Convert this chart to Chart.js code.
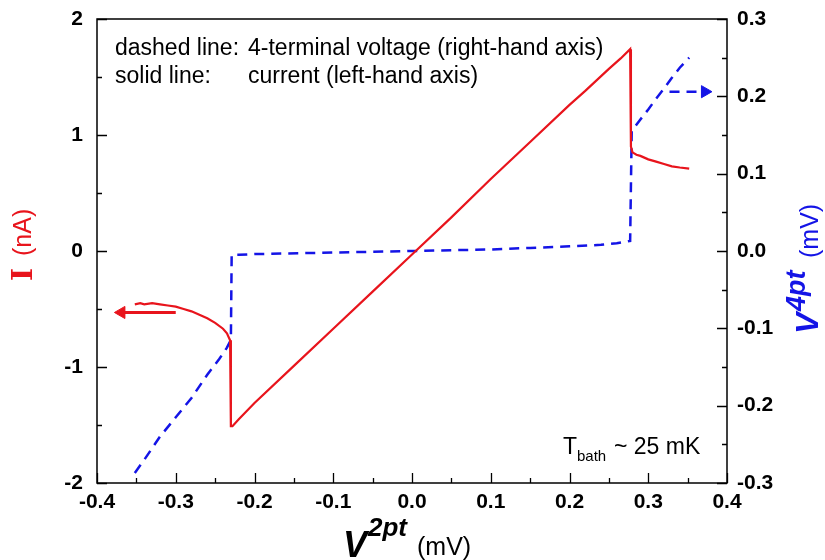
<!DOCTYPE html>
<html>
<head>
<meta charset="utf-8">
<script src="https://cdn.jsdelivr.net/npm/chart.js@4.4.1/dist/chart.umd.min.js"></script>
<style>
  body { margin: 0; background: #fff; }
  canvas { display: block; }
</style>
</head>
<body>
<canvas id="chart" width="825" height="560"></canvas>
<script>
// current (left axis), nA vs V2pt (mV)
const currentX = [-0.352, -0.345, -0.34, -0.33, -0.32, -0.31, -0.30, -0.29, -0.28, -0.27, -0.26, -0.25, -0.24, -0.235, -0.231,
    -0.230, -0.228, -0.22, -0.20, -0.15, -0.10, -0.05, 0.00, 0.05, 0.10, 0.15, 0.20, 0.22, 0.25, 0.265, 0.277,
    0.278, 0.280, 0.285, 0.29, 0.30, 0.31, 0.32, 0.33, 0.34, 0.352];
const currentI = [-0.46, -0.45, -0.46, -0.45, -0.46, -0.47, -0.48, -0.50, -0.52, -0.55, -0.58, -0.62, -0.67, -0.71, -0.77,
    -1.51, -1.51, -1.45, -1.31, -0.99, -0.67, -0.35, -0.03, 0.29, 0.62, 0.94, 1.26, 1.38, 1.57, 1.66, 1.74,
    0.90, 0.85, 0.83, 0.82, 0.79, 0.77, 0.75, 0.73, 0.72, 0.71];

// 4-terminal voltage (right axis), mV vs V2pt (mV)
const voltX = [-0.352, -0.34, -0.32, -0.30, -0.28, -0.26, -0.245, -0.235, -0.230,
    -0.229, -0.22, -0.20, -0.10, 0.00, 0.10, 0.15, 0.20, 0.24, 0.26, 0.277,
    0.279, 0.29, 0.30, 0.31, 0.32, 0.33, 0.34, 0.352];
const voltV = [-0.287, -0.27, -0.24, -0.215, -0.19, -0.16, -0.14, -0.125, -0.115,
    -0.005, -0.005, -0.004, -0.002, 0.000, 0.002, 0.004, 0.006, 0.008, 0.010, 0.013,
    0.155, 0.17, 0.183, 0.197, 0.21, 0.224, 0.237, 0.25];

// arrows telling which axis belongs to which curve
const arrowCurrentX = [-0.30, -0.369];
const arrowCurrentY = [-0.53, -0.53];
const arrowVoltX = [0.327, 0.372];
const arrowVoltY = [0.206, 0.206];

const xTicks = [-0.4, -0.3, -0.2, -0.1, 0.0, 0.1, 0.2, 0.3, 0.4];
const leftTicks = [-2, -1, 0, 1, 2];
const rightTicks = [-0.3, -0.2, -0.1, 0.0, 0.1, 0.2, 0.3];

const RED = "#e8141c";
const BLUE = "#1414e6";
const SANS = "'Liberation Sans', Arial, sans-serif";

function toPoints(xs, ys) {
    return xs.map((x, i) => ({ x: x, y: ys[i] }));
}

function zeroPadding(scale) {
    scale.paddingTop = 0;
    scale.paddingBottom = 0;
    scale.paddingLeft = 0;
    scale.paddingRight = 0;
}

// frame, inward ticks, titles and notes
const decorPlugin = {
    id: "decor",
    afterDraw(chart) {
        const ctx = chart.ctx;
        const a = chart.chartArea;
        const sx = chart.scales.x, sy = chart.scales.y, sy2 = chart.scales.y2;
        ctx.save();
        ctx.strokeStyle = "#000";
        ctx.lineWidth = 1.5;
        ctx.strokeRect(a.left, a.top, a.right - a.left, a.bottom - a.top);
        ctx.lineWidth = 1.3;
        ctx.beginPath();
        for (let v = -2; v <= 2.0001; v += 0.5) {
            const p = Math.round(sy.getPixelForValue(v)) + 0.5;
            const len = Math.abs(v - Math.round(v)) < 1e-6 ? 10 : 5;
            ctx.moveTo(a.left, p);
            ctx.lineTo(a.left + len, p);
        }
        for (let i = -6; i <= 6; i++) {
            const p = Math.round(sy2.getPixelForValue(i * 0.05)) + 0.5;
            const len = i % 2 == 0 ? 10 : 5;
            ctx.moveTo(a.right, p);
            ctx.lineTo(a.right - len, p);
        }
        for (let i = -8; i <= 8; i++) {
            const p = Math.round(sx.getPixelForValue(i * 0.05)) + 0.5;
            const len = i % 2 == 0 ? 10 : 5;
            ctx.moveTo(p, a.bottom);
            ctx.lineTo(p, a.bottom - len);
        }
        ctx.stroke();

        // notes inside plot
        ctx.fillStyle = "#000";
        ctx.textBaseline = "alphabetic";
        ctx.textAlign = "left";
        ctx.font = "23px " + SANS;
        ctx.fillText("dashed line:", 115, 55);
        ctx.fillText("4-terminal voltage (right-hand axis)", 248, 55);
        ctx.fillText("solid line:", 115, 83);
        ctx.fillText("current (left-hand axis)", 248, 83);
        ctx.fillText("T", 563, 454);
        ctx.font = "15px " + SANS;
        ctx.fillText("bath", 577, 461);
        ctx.font = "23px " + SANS;
        ctx.fillText("~ 25 mK", 614, 454);

        // bottom title
        ctx.font = "bold italic 36px " + SANS;
        ctx.fillText("V", 343, 557);
        ctx.font = "bold italic 26px " + SANS;
        ctx.fillText("2pt", 368, 536);
        ctx.font = "25px " + SANS;
        ctx.fillText("(mV)", 417, 555);

        // left title
        ctx.save();
        ctx.translate(32, 281);
        ctx.rotate(-Math.PI / 2);
        ctx.fillStyle = RED;
        ctx.font = "bold 28px 'DejaVu Serif', serif";
        ctx.fillText("I", 0, 0);
        ctx.font = "25px " + SANS;
        ctx.fillText("(nA)", 25, -1);
        ctx.restore();

        // right title
        ctx.save();
        ctx.translate(818, 334);
        ctx.rotate(-Math.PI / 2);
        ctx.fillStyle = BLUE;
        ctx.font = "bold italic 32px " + SANS;
        ctx.fillText("V", 0, 0);
        ctx.font = "bold italic 27px " + SANS;
        ctx.fillText("4pt", 23, -13);
        ctx.font = "25px " + SANS;
        ctx.fillText("(mV)", 76, 0);
        ctx.restore();

        ctx.restore();
    }
};

const tickFont = { family: SANS, size: 21, weight: "bold" };

new Chart(document.getElementById("chart"), {
    type: "scatter",
    data: {
        datasets: [
            {
                label: "current",
                data: toPoints(currentX, currentI),
                yAxisID: "y",
                showLine: true,
                borderColor: RED,
                borderWidth: 2.2,
                pointRadius: 0,
                tension: 0
            },
            {
                label: "voltage",
                data: toPoints(voltX, voltV),
                yAxisID: "y2",
                showLine: true,
                borderColor: BLUE,
                borderWidth: 2.5,
                borderDash: [10, 7],
                pointRadius: 0,
                tension: 0
            },
            {
                label: "arrow current",
                data: toPoints(arrowCurrentX, arrowCurrentY),
                yAxisID: "y",
                showLine: true,
                borderColor: RED,
                borderWidth: 3,
                pointRadius: [0, 7],
                pointStyle: "triangle",
                rotation: 270,
                pointBackgroundColor: RED,
                pointBorderColor: RED,
                pointBorderWidth: 1
            },
            {
                label: "arrow voltage",
                data: toPoints(arrowVoltX, arrowVoltY),
                yAxisID: "y2",
                showLine: true,
                borderColor: BLUE,
                borderWidth: 2.5,
                borderDash: [10, 7],
                pointRadius: [0, 7],
                pointStyle: "triangle",
                rotation: 90,
                pointBackgroundColor: BLUE,
                pointBorderColor: BLUE,
                pointBorderWidth: 1
            }
        ]
    },
    options: {
        responsive: false,
        animation: false,
        devicePixelRatio: 1,
        layout: { padding: { top: 19, left: 0, right: 0, bottom: 0 } },
        plugins: {
            legend: { display: false },
            tooltip: { enabled: false }
        },
        scales: {
            x: {
                type: "linear",
                min: -0.4,
                max: 0.4,
                afterBuildTicks: scale => { scale.ticks = xTicks.map(v => ({ value: v })); },
                afterFit: scale => { scale.height = 77; zeroPadding(scale); },
                grid: { display: false, drawTicks: false },
                border: { display: false },
                ticks: {
                    color: "#000",
                    font: tickFont,
                    padding: 7,
                    maxRotation: 0,
                    callback: v => v.toFixed(1)
                }
            },
            y: {
                type: "linear",
                position: "left",
                min: -2,
                max: 2,
                afterBuildTicks: scale => { scale.ticks = leftTicks.map(v => ({ value: v })); },
                afterFit: scale => { scale.width = 97; zeroPadding(scale); },
                grid: { display: false, drawTicks: false },
                border: { display: false },
                ticks: {
                    color: "#000",
                    font: tickFont,
                    padding: 14,
                    callback: v => String(v)
                }
            },
            y2: {
                type: "linear",
                position: "right",
                min: -0.3,
                max: 0.3,
                afterBuildTicks: scale => { scale.ticks = rightTicks.map(v => ({ value: v })); },
                afterFit: scale => { scale.width = 98; zeroPadding(scale); },
                grid: { display: false, drawTicks: false },
                border: { display: false },
                ticks: {
                    color: "#000",
                    font: tickFont,
                    padding: 10,
                    callback: v => v.toFixed(1)
                }
            }
        }
    },
    plugins: [decorPlugin]
});
</script>
</body>
</html>
